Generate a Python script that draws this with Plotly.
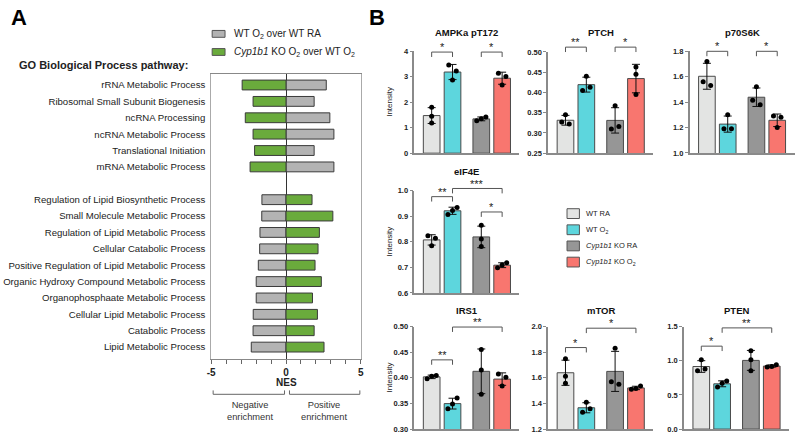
import numpy as np
import plotly.graph_objects as go

W, H = 798, 438
FONT = "Arial, Liberation Sans, sans-serif"

# ---------------- Panel A data (NES) ----------------
go_terms_upper = [
    "rRNA Metabolic Process",
    "Ribosomal Small Subunit Biogenesis",
    "ncRNA Processing",
    "ncRNA Metabolic Process",
    "Translational Initiation",
    "mRNA Metabolic Process",
]
go_terms_lower = [
    "Regulation of Lipid Biosynthetic Process",
    "Small Molecule Metabolic Process",
    "Regulation of Lipid Metabolic Process",
    "Cellular Catabolic Process",
    "Positive Regulation of Lipid Metabolic Process",
    "Organic Hydroxy Compound Metabolic Process",
    "Organophosphaate Metabolic Process",
    "Cellular Lipid Metabolic Process",
    "Catabolic Process",
    "Lipid Metabolic Process",
]
nes_wt_upper = [2.69, 1.88, 2.93, 3.20, 1.88, 3.20]
nes_ko_upper = [-2.93, -2.20, -2.72, -2.20, -2.10, -2.40]
nes_wt_lower = [-1.61, -1.62, -1.74, -1.76, -1.85, -1.99, -1.99, -2.19, -2.20, -2.32]
nes_ko_lower = [1.74, 3.13, 2.23, 2.14, 1.94, 2.36, 1.77, 2.10, 1.88, 2.54]

# ---------------- Panel B data (replicate intensities) ----------------
group_names = ["WT RA", "WT O<sub>2</sub>", "<i>Cyp1b1</i> KO RA", "<i>Cyp1b1</i> KO O<sub>2</sub>"]
group_colors = ["#e3e4e3", "#5dd6dd", "#969696", "#f8766f"]

ampk = [[1.80, 1.45, 1.18], [3.46, 3.23, 2.87], [1.42, 1.35, 1.27], [3.14, 3.01, 2.68]]
ptch = [[0.345, 0.327, 0.322], [0.440, 0.405, 0.413], [0.367, 0.310, 0.316], [0.463, 0.445, 0.395]]
p70s6k = [[1.72, 1.56, 1.53], [1.30, 1.19, 1.19], [1.52, 1.415, 1.38], [1.29, 1.28, 1.20]]
eif4e = [[0.824, 0.814, 0.785], [0.935, 0.923, 0.907], [0.865, 0.811, 0.782], [0.718, 0.699, 0.709]]
irs1 = [[0.398, 0.4045, 0.403], [0.3605, 0.349, 0.3395], [0.455, 0.415, 0.368], [0.4075, 0.401, 0.384]]
mtor = [[1.748, 1.613, 1.557], [1.409, 1.332, 1.358], [1.83, 1.57, 1.55], [1.511, 1.536, 1.516]]
pten = [[1.013, 0.855, 0.878], [0.702, 0.616, 0.669], [1.146, 1.013, 0.855], [0.907, 0.941, 0.917]]

# significance: (group i, group j, bracket level, label)
sig_ampk = [(0, 1, 3.97, "*"), (2, 3, 3.97, "*")]
sig_ptch = [(0, 1, 0.512, "**"), (2, 3, 0.512, "*")]
sig_p70 = [(0, 1, 1.80, "*"), (2, 3, 1.80, "*")]
sig_eif4e = [(0, 1, 0.977, "**"), (1, 3, 1.009, "***"), (2, 3, 0.917, "*")]
sig_irs1 = [(0, 1, 0.435, "**"), (1, 3, 0.499, "**")]
sig_mtor = [(0, 1, 1.836, "*"), (1, 3, 1.987, "*")]
sig_pten = [(0, 1, 1.213, "*"), (1, 3, 1.48, "**")]


def px(x):
    return x / W


def py(y):
    return 1 - y / H


fig = go.Figure()
shapes = []
annotations = []

# ================= Panel A =================
ypos = list(range(6)) + list(range(7, 17))
terms = go_terms_upper + go_terms_lower
fig.add_trace(go.Bar(y=ypos, x=nes_wt_upper + nes_wt_lower, orientation="h", width=0.6,
                     marker=dict(color="#b3b3b3", line=dict(color="#3a3a3a", width=1)),
                     showlegend=False, xaxis="x", yaxis="y"))
fig.add_trace(go.Bar(y=ypos, x=nes_ko_upper + nes_ko_lower, orientation="h", width=0.6,
                     marker=dict(color="#6aab3c", line=dict(color="#3a3a3a", width=1)),
                     showlegend=False, xaxis="x", yaxis="y"))

layout = dict(
    width=W, height=H, margin=dict(l=0, r=0, t=0, b=0),
    paper_bgcolor="white", plot_bgcolor="white",
    barmode="overlay", font=dict(family=FONT, color="#222"),
    xaxis=dict(domain=[px(209), px(360)], range=[-5, 5], tickvals=[-5, 0, 5],
               ticktext=["<b>-5</b>", "<b>0</b>", "<b>5</b>"],
               ticks="outside", ticklen=4, tickcolor="#666", tickfont=dict(size=10, color="#222"),
               minor=dict(ticks="outside", dtick=1, ticklen=4, tickcolor="#666"),
               showline=True, linecolor="#888", linewidth=1.2, mirror=True, showgrid=False,
               zeroline=True, zerolinecolor="#333", zerolinewidth=1, fixedrange=True),
    yaxis=dict(domain=[py(362), py(71)], range=[16.7, -0.7], tickvals=ypos, ticktext=terms,
               ticks="", tickfont=dict(size=9.6, color="#222"), ticklabelstandoff=3,
               showline=True, linecolor="#aaa",
               linewidth=1, mirror=True, showgrid=False, zeroline=False, fixedrange=True),
)

annotations += [
    dict(x=px(5), y=py(14), text="<b>A</b>", font=dict(size=22, color="black"), xanchor="left"),
    dict(x=px(366), y=py(14), text="<b>B</b>", font=dict(size=22, color="black"), xanchor="left"),
    dict(x=px(13), y=py(62), text="<b>GO Biological Process pathway:</b>",
         font=dict(size=11, color="#222"), xanchor="left"),
    dict(x=px(230), y=py(30.5), text="WT O<sub>2</sub> over WT RA", font=dict(size=10), xanchor="left"),
    dict(x=px(230), y=py(49), text="<i>Cyp1b1</i> KO O<sub>2</sub> over WT O<sub>2</sub>",
         font=dict(size=10), xanchor="left"),
    dict(x=px(285), y=py(386.5), text="<b>NES</b>", font=dict(size=10)),
    dict(x=px(248), y=py(416), text="Negative<br>enrichment", font=dict(size=9.3, color="#333")),
    dict(x=px(323), y=py(416), text="Positive<br>enrichment", font=dict(size=9.3, color="#333")),
]
for ya, col in [(30.5, "#b3b3b3"), (49, "#6aab3c")]:
    shapes.append(dict(type="rect", xref="paper", yref="paper", x0=px(210), x1=px(223),
                       y0=py(ya - 3.5), y1=py(ya + 3.5), fillcolor=col,
                       line=dict(color="#555", width=1)))
for x0, x1 in [(211, 283), (288, 359)]:
    shapes.append(dict(type="path", xref="paper", yref="paper",
                       path=f"M {px(x0)} {py(394.5)} L {px(x0)} {py(398.5)} L {px(x1)} {py(398.5)} L {px(x1)} {py(394.5)}",
                       line=dict(color="#666", width=1)))

# ================= Panel B =================
xpos = [0, 1, 2.38, 3.38]
xrange_b = [-0.83, 4.21]

panels = [
    ("AMPKa pT172", ampk, sig_ampk, (414, 520, 48.3, 152.3), (0, 4), [0, 1, 2, 3, 4], "{:.0f}", True),
    ("PTCH", ptch, sig_ptch, (549, 655, 49, 152.3), (0.25, 0.5), [0.25, 0.30, 0.35, 0.40, 0.45, 0.50], "{:.2f}", False),
    ("p70S6K", p70s6k, sig_p70, (691.7, 797.5, 48.3, 152), (1.0, 1.8), [1.0, 1.2, 1.4, 1.6, 1.8], "{:.1f}", False),
    ("eIF4E", eif4e, sig_eif4e, (414, 520, 190.7, 295), (0.6, 1.0), [0.6, 0.7, 0.8, 0.9, 1.0], "{:.1f}", True),
    ("IRS1", irs1, sig_irs1, (414, 520, 329.3, 434), (0.30, 0.50), [0.30, 0.35, 0.40, 0.45, 0.50], "{:.2f}", True),
    ("mTOR", mtor, sig_mtor, (549, 655, 329.3, 434), (1.2, 2.0), [1.2, 1.4, 1.6, 1.8, 2.0], "{:.1f}", False),
    ("PTEN", pten, sig_pten, (686, 792, 329.3, 434), (0.0, 1.5), [0.0, 0.5, 1.0, 1.5], "{:.1f}", False),
]
title_y = {48.3: 29, 49: 29, 190.7: 171, 329.3: 312.5}


def jitter(vals, span):
    vals = list(vals)
    offs = [0.0] * len(vals)
    close = [(i, j) for i in range(len(vals)) for j in range(i + 1, len(vals))
             if abs(vals[i] - vals[j]) < 0.06 * span]
    if len(close) >= 2:
        order = np.argsort(vals)
        for k, o in zip(order, [-0.22, 0.0, 0.22]):
            offs[k] = o
    elif len(close) == 1:
        i, j = close[0]
        offs[i], offs[j] = -0.18, 0.18
    return offs


for n, (title, reps, sigs, (dx0, dx1, dy0, dy1), yr, tv, fmt, ylab) in enumerate(panels, start=2):
    xa, ya = f"x{n}", f"y{n}"
    means = [float(np.mean(r)) for r in reps]
    sds = [float(np.std(r, ddof=1)) for r in reps]
    fig.add_trace(go.Bar(x=xpos, y=means, width=0.8, xaxis=xa, yaxis=ya, showlegend=False,
                         marker=dict(color=group_colors, line=dict(color="#4a4a4a", width=1)),
                         error_y=dict(type="data", array=sds, color="#111", thickness=1, width=4)))
    span = yr[1] - yr[0]
    ptx, pty = [], []
    for xp, r in zip(xpos, reps):
        for o, v in zip(jitter(r, span), r):
            ptx.append(xp + o)
            pty.append(v)
    fig.add_trace(go.Scatter(x=ptx, y=pty, mode="markers", xaxis=xa, yaxis=ya, showlegend=False,
                             cliponaxis=False, marker=dict(color="black", size=5, symbol="circle")))

    layout[f"xaxis{n}"] = dict(domain=[px(dx0), px(dx1)], range=xrange_b, showticklabels=False,
                               ticks="", showline=True, linecolor="#8a8a8a", linewidth=1.5,
                               showgrid=False, zeroline=False, fixedrange=True, anchor=ya)
    layout[f"yaxis{n}"] = dict(domain=[py(dy1), py(dy0)], range=list(yr), tickvals=tv,
                               ticktext=[f"<b>{fmt.format(t)}</b>" for t in tv],
                               ticks="outside", ticklen=3, tickcolor="#8a8a8a", tickwidth=1.2,
                               tickfont=dict(size=7.5, color="#222"), showline=True,
                               linecolor="#8a8a8a", linewidth=1.5, showgrid=False,
                               zeroline=False, fixedrange=True, anchor=xa)

    def to_px(xv, yv):
        return (dx0 + (xv - xrange_b[0]) / (xrange_b[1] - xrange_b[0]) * (dx1 - dx0),
                dy1 - (yv - yr[0]) / span * (dy1 - dy0))

    annotations.append(dict(x=px((dx0 + dx1) / 2), y=py(title_y[dy0]), text=f"<b>{title}</b>",
                            font=dict(size=9.5, color="#111")))
    if ylab:
        annotations.append(dict(x=px(dx0 - 25), y=py((dy0 + dy1) / 2), text="Intensity",
                                textangle=-90, font=dict(size=8, color="#222")))
    for i, j, lvl, lab in sigs:
        xa0, yb = to_px(xpos[i], lvl)
        xb0, _ = to_px(xpos[j], lvl)
        shapes.append(dict(type="path", xref="paper", yref="paper",
                           path=f"M {px(xa0)} {py(yb + 5)} L {px(xa0)} {py(yb)} L {px(xb0)} {py(yb)} L {px(xb0)} {py(yb + 5)}",
                           line=dict(color="#555", width=1)))
        annotations.append(dict(x=px((xa0 + xb0) / 2), y=py(yb - 5), text=lab,
                                font=dict(size=11, color="#222")))

# Panel B legend
for k, (name, col) in enumerate(zip(group_names, group_colors)):
    yc = 214 + k * 16.5
    shapes.append(dict(type="rect", xref="paper", yref="paper", x0=px(568), x1=px(580.5),
                       y0=py(yc + 5), y1=py(yc - 5), fillcolor=col, line=dict(color="#555", width=1)))
    annotations.append(dict(x=px(585), y=py(yc), text=name, xanchor="left",
                            font=dict(size=7.5, color="#222")))

for a in annotations:
    a.setdefault("xref", "paper")
    a.setdefault("yref", "paper")
    a.setdefault("showarrow", False)
    a.setdefault("xanchor", "center")
    a.setdefault("yanchor", "middle")

layout["shapes"] = shapes
layout["annotations"] = annotations
fig.update_layout(**layout)
fig.write_html("out.html", config={"displayModeBar": False},
               post_script="document.body.style.margin='0';")
